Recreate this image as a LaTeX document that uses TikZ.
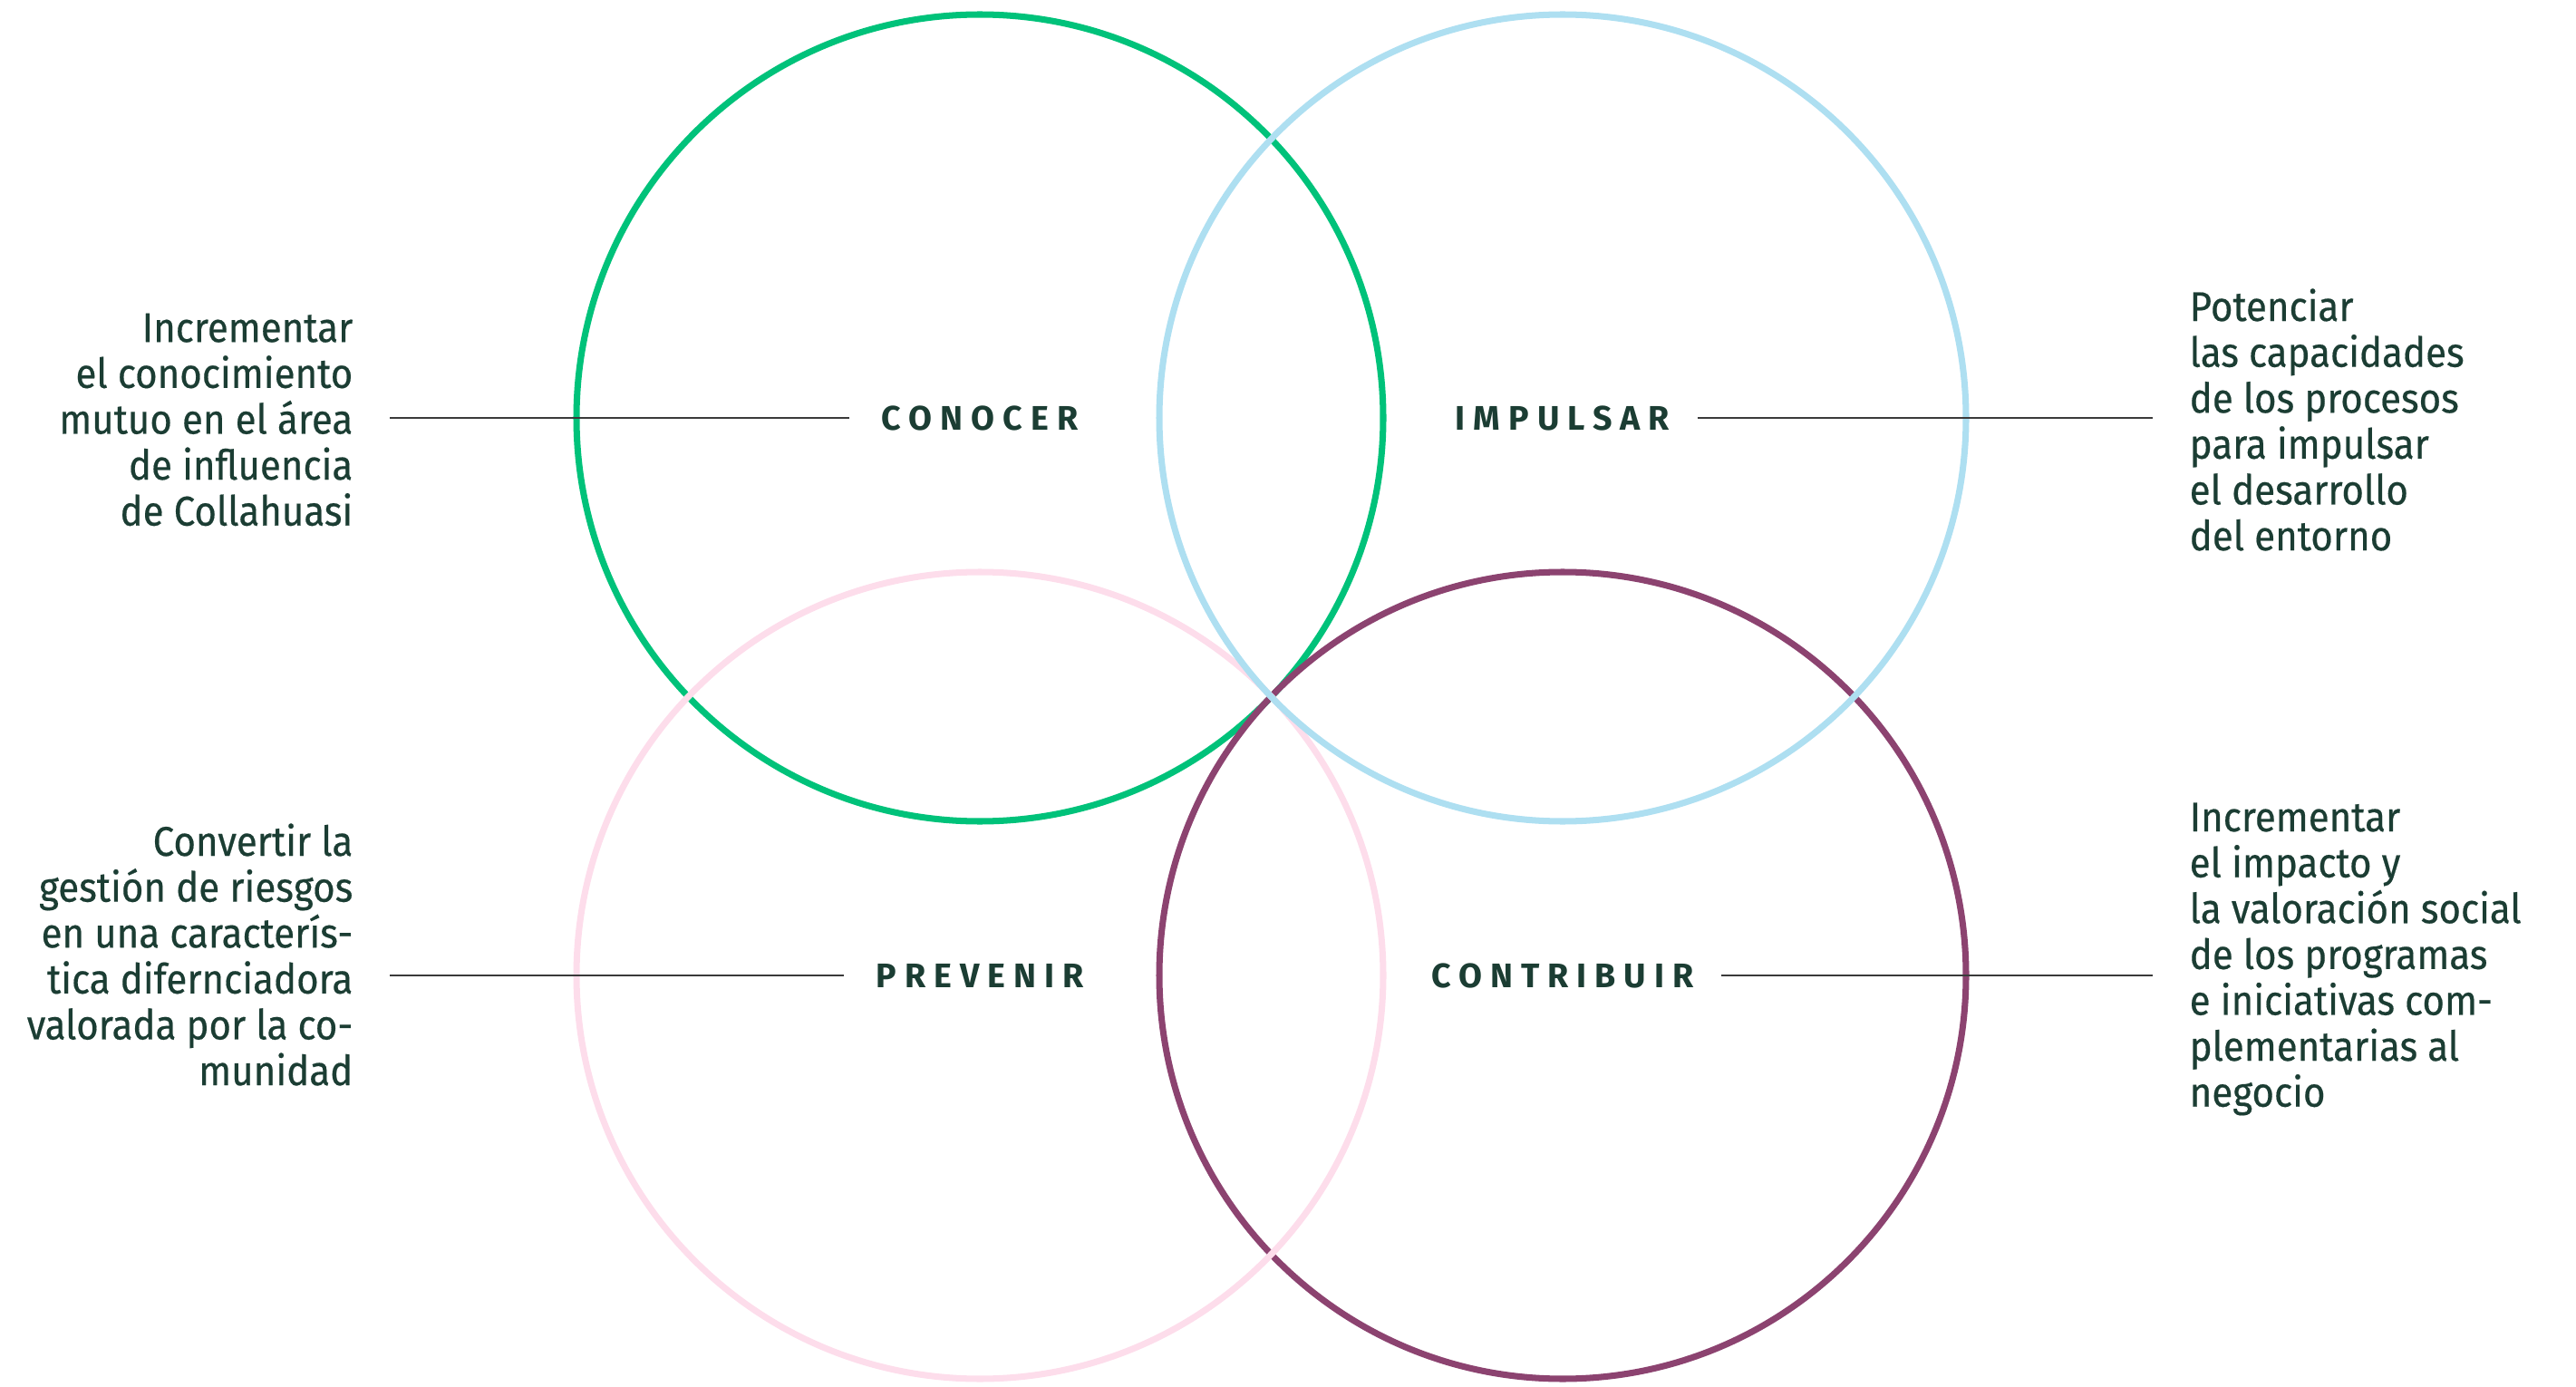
\documentclass[tikz,border=0pt]{standalone}
\usepackage{fontspec}
\setmainfont{Fira Sans}
\usepackage{tikz}
\usetikzlibrary{positioning}
\definecolor{verde}{HTML}{00C27A}
\definecolor{celeste}{HTML}{AEDFF1}
\definecolor{rosa}{HTML}{FDDDEB}
\definecolor{morado}{HTML}{8C4370}
\definecolor{texto}{HTML}{1B3D33}
\definecolor{linea}{HTML}{3A3A3A}
\tikzset{>=stealth}
\tikzstyle{ring} = [line width=2pt]
\tikzstyle{aim} = [inner sep=0pt, text=texto,
    font=\fontsize{10.7}{12}\selectfont\bfseries\addfontfeature{LetterSpace=24}]
\tikzstyle{desc} = [inner sep=0pt, text=texto,
    font=\fontsize{13}{14.4}\selectfont\addfontfeature{FakeStretch=0.92,FakeBold=0.4}]
\tikzstyle{conn} = [draw=linea, line width=0.7pt]

\begin{document}
\begin{tikzpicture}
  \useasboundingbox (0,0) rectangle (28.42,-15.30);
  % circle centres
  \coordinate (c1) at (10.81,-4.61);
  \coordinate (c2) at (17.24,-4.61);
  \coordinate (c3) at (10.81,-10.76);
  \coordinate (c4) at (17.24,-10.76);

  \draw [ring, verde] (c1) circle (4.45);
  \draw [ring, morado] (c4) circle (4.45);
  \draw [ring, rosa] (c3) circle (4.45);
  \draw [ring, celeste] (c2) circle (4.45);

  \node [aim] (n1) at (c1) {CONOCER};
  \node [aim] (n2) at (c2) {IMPULSAR};
  \node [aim] (n3) at (c3) {PREVENIR};
  \node [aim] (n4) at (c4) {CONTRIBUIR};

  \node [desc, align=right, anchor=east] (t1) at (3.90,-4.63)
  {Incrementar\\el conocimiento\\mutuo en el área\\de influencia\\de Collahuasi};
  \node [desc, align=left, anchor=west] (t2) at (24.15,-4.63)
  {Potenciar\\las capacidades\\de los procesos\\para impulsar\\el desarrollo\\del entorno};
  \node [desc, align=right, anchor=east] (t3) at (3.90,-10.53)
  {Convertir la\\gestión de riesgos\\en una caracterís-\\tica difernciadora\\valorada por la co-\\munidad};
  \node [desc, align=left, anchor=west] (t4) at (24.15,-10.58)
  {Incrementar\\el impacto y\\la valoración social\\de los programas\\e iniciativas com-\\plementarias al\\negocio};

  \draw [conn, shorten <=0.35cm, shorten >=0.4cm] (n1.west) -- (n1.west -| t1.east);
  \draw [conn, shorten <=0.3cm, shorten >=0.4cm] (n2.east) -- (n2.east -| t2.west);
  \draw [conn, shorten <=0.35cm, shorten >=0.4cm] (n3.west) -- (n3.west -| t3.east);
  \draw [conn, shorten <=0.3cm, shorten >=0.4cm] (n4.east) -- (n4.east -| t4.west);
\end{tikzpicture}
\end{document}
